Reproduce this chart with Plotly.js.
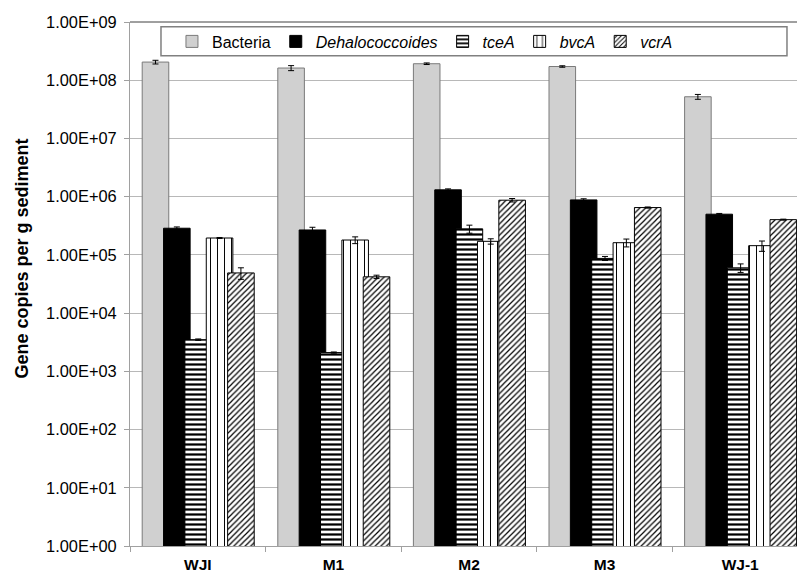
<!DOCTYPE html>
<html>
<head>
<meta charset="utf-8">
<script src="https://cdn.plot.ly/plotly-3.0.1.min.js"></script>
<style>
html,body{margin:0;padding:0;overflow:hidden;background:#fff;}
#chart{width:810px;height:572px;}
</style>
</head>
<body>
<div id="chart"></div>
<script>
var sites = ["WJI", "M1", "M2", "M3", "WJ-1"];
var seriesNames = ["Bacteria", "<i>Dehalococcoides</i>", "<i>tceA</i>", "<i>bvcA</i>", "<i>vcrA</i>"];

var bacteria      = [2.05e8, 1.62e8, 1.92e8, 1.72e8, 5.2e7];
var bacteriaErr   = [1.5e7, 1.6e7, 6e6, 5e6, 5e6];
var dehalo        = [2.87e5, 2.68e5, 1.31e6, 8.8e5, 5.0e5];
var dehaloErr     = [1.5e4, 3e4, 5e4, 4e4, 1.5e4];
var tceA          = [3.5e3, 2.1e3, 2.8e5, 8.7e4, 6.0e4];
var tceAErr       = [1e2, 5e1, 4.4e4, 7e3, 1e4];
var bvcA          = [1.95e5, 1.8e5, 1.71e5, 1.62e5, 1.44e5];
var bvcAErr       = [4e3, 2.4e4, 1.8e4, 2.5e4, 2.9e4];
var vcrA          = [4.9e4, 4.2e4, 8.7e5, 6.5e5, 4.03e5];
var vcrAErr       = [1.1e4, 2.8e3, 6e4, 1.5e4, 8e3];

var tickVals = [1, 10, 100, 1e3, 1e4, 1e5, 1e6, 1e7, 1e8, 1e9];
var tickText = ["1.00E+00","1.00E+01","1.00E+02","1.00E+03","1.00E+04","1.00E+05","1.00E+06","1.00E+07","1.00E+08","1.00E+09"];
var yTitle = "Gene copies per g sediment";

var values = [bacteria, dehalo, tceA, bvcA, vcrA];
var errs = [bacteriaErr, dehaloErr, tceAErr, bvcAErr, vcrAErr];

var styles = [
  {color:"#d0d0d0", line:"#7a7a7a", pattern:{shape:""}},
  {color:"#000000", line:"#000000", pattern:{shape:""}},
  {color:"#ffffff", line:"#000000", pattern:{shape:"-", fgcolor:"#000000", bgcolor:"#ffffff", size:5, solidity:0.45, fillmode:"replace"}},
  {color:"#ffffff", line:"#000000", pattern:{shape:"|", fgcolor:"#000000", bgcolor:"#ffffff", size:7, solidity:0.14, fillmode:"replace"}},
  {color:"#ffffff", line:"#000000", pattern:{shape:"/", fgcolor:"#000000", bgcolor:"#ffffff", size:4, solidity:0.3, fillmode:"replace"}}
];

var barWidth = 0.196;
var pitch = 0.1575;
var start = -0.41;

var traces = values.map(function(v, i){
  return {
    type: "bar",
    name: seriesNames[i],
    x: sites,
    y: v,
    width: sites.map(function(){return barWidth;}),
    offset: start + i * pitch,
    marker: {
      color: styles[i].color,
      line: {color: styles[i].line, width: 1},
      pattern: styles[i].pattern
    },
    error_y: {
      type: "data",
      array: errs[i],
      arrayminus: errs[i],
      color: "#000000",
      thickness: 1,
      width: 3,
      visible: true
    }
  };
});

var layout = {
  width: 810,
  height: 572,
  margin: {l: 130, r: 2, t: 22, b: 26},
  barmode: "overlay",
  paper_bgcolor: "#ffffff",
  plot_bgcolor: "#ffffff",
  font: {family: "Liberation Sans, Arial, sans-serif", color: "#000000"},
  showlegend: true,
  legend: {
    orientation: "h",
    x: 0.0619, xanchor: "left",
    y: 0.9628, yanchor: "middle",
    bgcolor: "rgba(0,0,0,0)",
    borderwidth: 0,
    font: {size: 16, family: "Liberation Sans, Arial, sans-serif"},
    traceorder: "normal",
    itemwidth: 30
  },
  xaxis: {
    type: "category",
    tickfont: {size: 15.5, family: "Liberation Sans, Arial, sans-serif", weight: "bold"},
    showgrid: false,
    showline: true,
    linecolor: "#a0a0a0",
    linewidth: 1,
    ticks: "outside",
    tickson: "boundaries",
    ticklen: 5,
    tickcolor: "#a0a0a0",
    ticklabelstandoff: 4,
    zeroline: false,
    range: [-0.5, 4.5]
  },
  yaxis: {
    type: "log",
    range: [0, 9],
    tickvals: tickVals,
    ticktext: tickText,
    tickfont: {size: 16.4, family: "Liberation Sans, Arial, sans-serif"},
    ticks: "outside",
    ticklen: 5,
    tickcolor: "#a0a0a0",
    ticklabelstandoff: 4,
    showline: true,
    linecolor: "#a0a0a0",
    linewidth: 1,
    showgrid: true,
    gridcolor: "#b8b8b8",
    gridwidth: 1,
    zeroline: false
  },
  annotations: [
    {xref: "paper", yref: "paper", x: -0.16, y: 0.5477, xanchor: "center", yanchor: "middle",
     text: yTitle, textangle: -90, showarrow: false,
     font: {size: 18, weight: "bold", family: "Liberation Sans, Arial, sans-serif", color: "#000000"}}
  ],
  shapes: [
    {type: "line", xref: "paper", yref: "paper", x0: 0, x1: 1, y0: 1, y1: 1, line: {color: "#404040", width: 1}},
    {type: "rect", xref: "paper", yref: "paper", x0: 0.0457, x1: 0.969, y0: 0.9357, y1: 0.991,
     fillcolor: "#ffffff", line: {color: "#808080", width: 1.5}, layer: "above"}
  ]
};

Plotly.newPlot("chart", traces, layout, {displayModeBar: false, staticPlot: true});
</script>
</body>
</html>
